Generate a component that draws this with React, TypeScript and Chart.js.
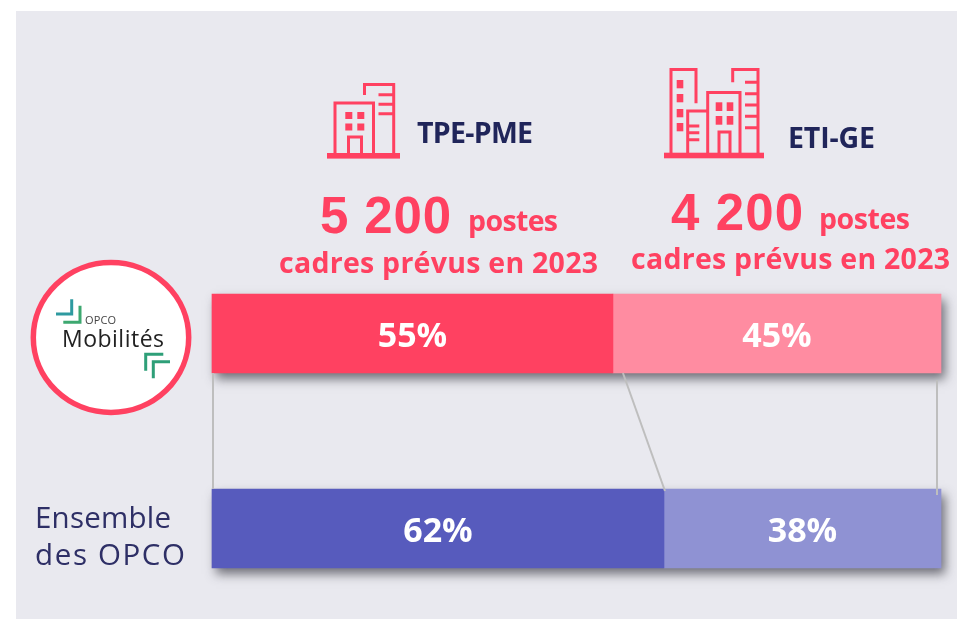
import React, { useEffect, useRef } from "react";
import { Chart, registerables } from "chart.js";

Chart.register(...registerables);

const categories = ["OPCO Mobilités", "Ensemble des OPCO"];
const tpePme = [55, 62];
const etiGe = [45, 38];
const tpeColors = ["#FF4161", "#575BBD"];
const etiColors = ["#FF8CA1", "#8F92D3"];

const RED = "#FF4161";
const NAVY = "#20255A";
const FONT = "'Open Sans', sans-serif";

const barDecor = {
  id: "barDecor",
  beforeDatasetsDraw(chart: any) {
    const { ctx, scales } = chart;
    const x0 = scales.x.getPixelForValue(0);
    const x1 = scales.x.getPixelForValue(100);
    ctx.save();
    categories.forEach((_, i) => {
      const yc = scales.y.getPixelForValue(i);
      ctx.shadowColor = "rgba(60,60,70,0.7)";
      ctx.shadowBlur = 10;
      ctx.shadowOffsetX = 4;
      ctx.shadowOffsetY = 6;
      ctx.fillStyle = "#888";
      ctx.fillRect(x0, yc - 39.5, x1 - x0, 79);
    });
    ctx.restore();
  },
  afterDatasetsDraw(chart: any) {
    const { ctx, scales } = chart;
    const x = scales.x;
    const yTop = scales.y.getPixelForValue(0) + 39.5;
    const yBot = scales.y.getPixelForValue(1) - 39.5;
    ctx.save();
    ctx.strokeStyle = "#BEBEBE";
    ctx.lineWidth = 2;
    const seg = (a: number, b: number, c: number, d: number) => {
      ctx.beginPath();
      ctx.moveTo(a, b);
      ctx.lineTo(c, d);
      ctx.stroke();
    };
    seg(x.getPixelForValue(0) + 1, yTop, x.getPixelForValue(0) + 1, yBot);
    seg(x.getPixelForValue(tpePme[0]) + 10, yTop, x.getPixelForValue(tpePme[1]) + 1, yBot + 2);
    seg(x.getPixelForValue(100) - 4, yTop + 7, x.getPixelForValue(100) - 4, yBot + 6);

    ctx.fillStyle = "#FFFFFF";
    ctx.font = "700 34px 'Open Sans', sans-serif";
    ctx.textAlign = "center";
    ctx.textBaseline = "middle";
    categories.forEach((_, i) => {
      const yc = scales.y.getPixelForValue(i) + 3.5;
      ctx.fillText(`${tpePme[i]}%`, x.getPixelForValue(tpePme[i] / 2), yc);
      ctx.fillText(`${etiGe[i]}%`, x.getPixelForValue(tpePme[i] + etiGe[i] / 2), yc);
    });
    ctx.restore();
  },
};

const line = { fill: "none", stroke: RED, strokeWidth: 3 };

function Icons() {
  return (
    <g>
      {/* TPE-PME building */}
      <rect x={327} y={153} width={73} height={5.6} fill={RED} />
      <path d="M335 153V103H373.5V153M348.5 153V137H361.5V153M364.5 95V84.5H393.7V153M378.5 94.8H393.7M378.5 104.3H393.7M378.5 113.8H393.7" {...line} />
      {[345.3, 357.3].map((x) =>
        [112, 123.5].map((y) => <rect key={`${x}-${y}`} x={x} y={y} width={7} height={7} fill={RED} />)
      )}
      {/* ETI-GE buildings */}
      <rect x={664} y={152.7} width={100} height={5.6} fill={RED} />
      <path d="M671 153V69.5H696V103.3M687.7 153V111H707.7M688 126H699.3M688 132.8H699.3M688 139.7H699.3M707.7 153V92.5H740V153M719 153V132H730V153M732.7 82.3V69.5H758V153M745 82.3H758M745 93.7H758M745 105H758M745 116.3H758M745 127.7H758" {...line} />
      {[80, 94, 109, 123].map((y) => <rect key={y} x={676.7} y={y} width={6.6} height={8.3} fill={RED} />)}
      {[715.7, 726.7].map((x) =>
        [102.3, 116].map((y) => <rect key={`${x}-${y}`} x={x} y={y} width={6.6} height={8.7} fill={RED} />)
      )}
    </g>
  );
}

function Logo() {
  return (
    <g>
      <ellipse cx={111} cy={337.5} rx={77.7} ry={75} fill="#FFFFFF" stroke={RED} strokeWidth={5.5} />
      <path d="M56 314H71.7V299.3" fill="none" stroke="#2E9AA0" strokeWidth={3} />
      <path d="M63.3 322.3H80V305.7" fill="none" stroke="#3DA870" strokeWidth={3} />
      <path d="M170 361.7H153.3V378.3" fill="none" stroke="#2E9F78" strokeWidth={3} />
      <path d="M163.3 354.3H145.7V370.7" fill="none" stroke="#2E9F78" strokeWidth={3} />
      <text x={85} y={323.5} fontFamily={FONT} fontWeight={400} fontSize={11} textLength={31} fill="#444">OPCO</text>
      <text x={62} y={347} fontFamily={FONT} fontWeight={400} fontSize={23} textLength={102} fill="#222">Mobilités</text>
    </g>
  );
}

export default function App() {
  const ref = useRef<HTMLCanvasElement>(null);
  useEffect(() => {
    const chart = new Chart(ref.current as HTMLCanvasElement, {
      type: "bar",
      data: {
        labels: categories,
        datasets: [
          { label: "TPE-PME", data: tpePme, backgroundColor: tpeColors, barThickness: 79, clip: false },
          { label: "ETI-GE", data: etiGe, backgroundColor: etiColors, barThickness: 79, clip: false },
        ],
      } as any,
      options: {
        indexAxis: "y",
        animation: false,
        responsive: false,
        layout: { padding: { left: 212, right: 16, top: 333.5, bottom: 90.5 } },
        plugins: { legend: { display: false }, tooltip: { enabled: false } },
        scales: {
          x: { stacked: true, min: 0, max: 100, display: false },
          y: { stacked: true, display: false, offset: false },
        },
      } as any,
      plugins: [barDecor],
    });
    return () => chart.destroy();
  }, []);

  return (
    <div style={{ position: "absolute", left: 0, top: 0, width: 957, height: 619, background: "#FFFFFF", overflow: "hidden" }}>
      <div style={{ position: "absolute", left: 16, top: 11, width: 941, height: 608, background: "#E9E9EF" }} />
      <canvas ref={ref} width={957} height={619} style={{ position: "absolute", left: 0, top: 0, display: "block" }} />
      <svg width={957} height={619} style={{ position: "absolute", left: 0, top: 0 }}>
        <Icons />
        <Logo />
        <g fontFamily={FONT} fontWeight={700}>
          <text x={417} y={143} fontSize={28.5} fill={NAVY} textLength={116}>TPE-PME</text>
          <text x={788} y={148} fontSize={28.5} fill={NAVY} textLength={87}>ETI-GE</text>
          <text x={320} y={233} fontSize={51} fontFamily="'Liberation Sans', sans-serif" fill={RED} textLength={131}>5 200</text>
          <text x={468} y={231} fontSize={28.5} fill={RED} textLength={90}>postes</text>
          <text x={279} y={273} fontSize={28.5} fill={RED} textLength={319}>cadres prévus en 2023</text>
          <text x={671} y={230} fontSize={51} fontFamily="'Liberation Sans', sans-serif" fill={RED} textLength={132}>4 200</text>
          <text x={819} y={229} fontSize={28.5} fill={RED} textLength={91}>postes</text>
          <text x={631} y={269} fontSize={28.5} fill={RED} textLength={319}>cadres prévus en 2023</text>
        </g>
        <g fontFamily={FONT} fontWeight={400} fontSize={29.5} fill="#2E2F66">
          <text x={35} y={528} textLength={136}>Ensemble</text>
          <text x={35} y={565} textLength={150}>des OPCO</text>
        </g>
      </svg>
    </div>
  );
}
